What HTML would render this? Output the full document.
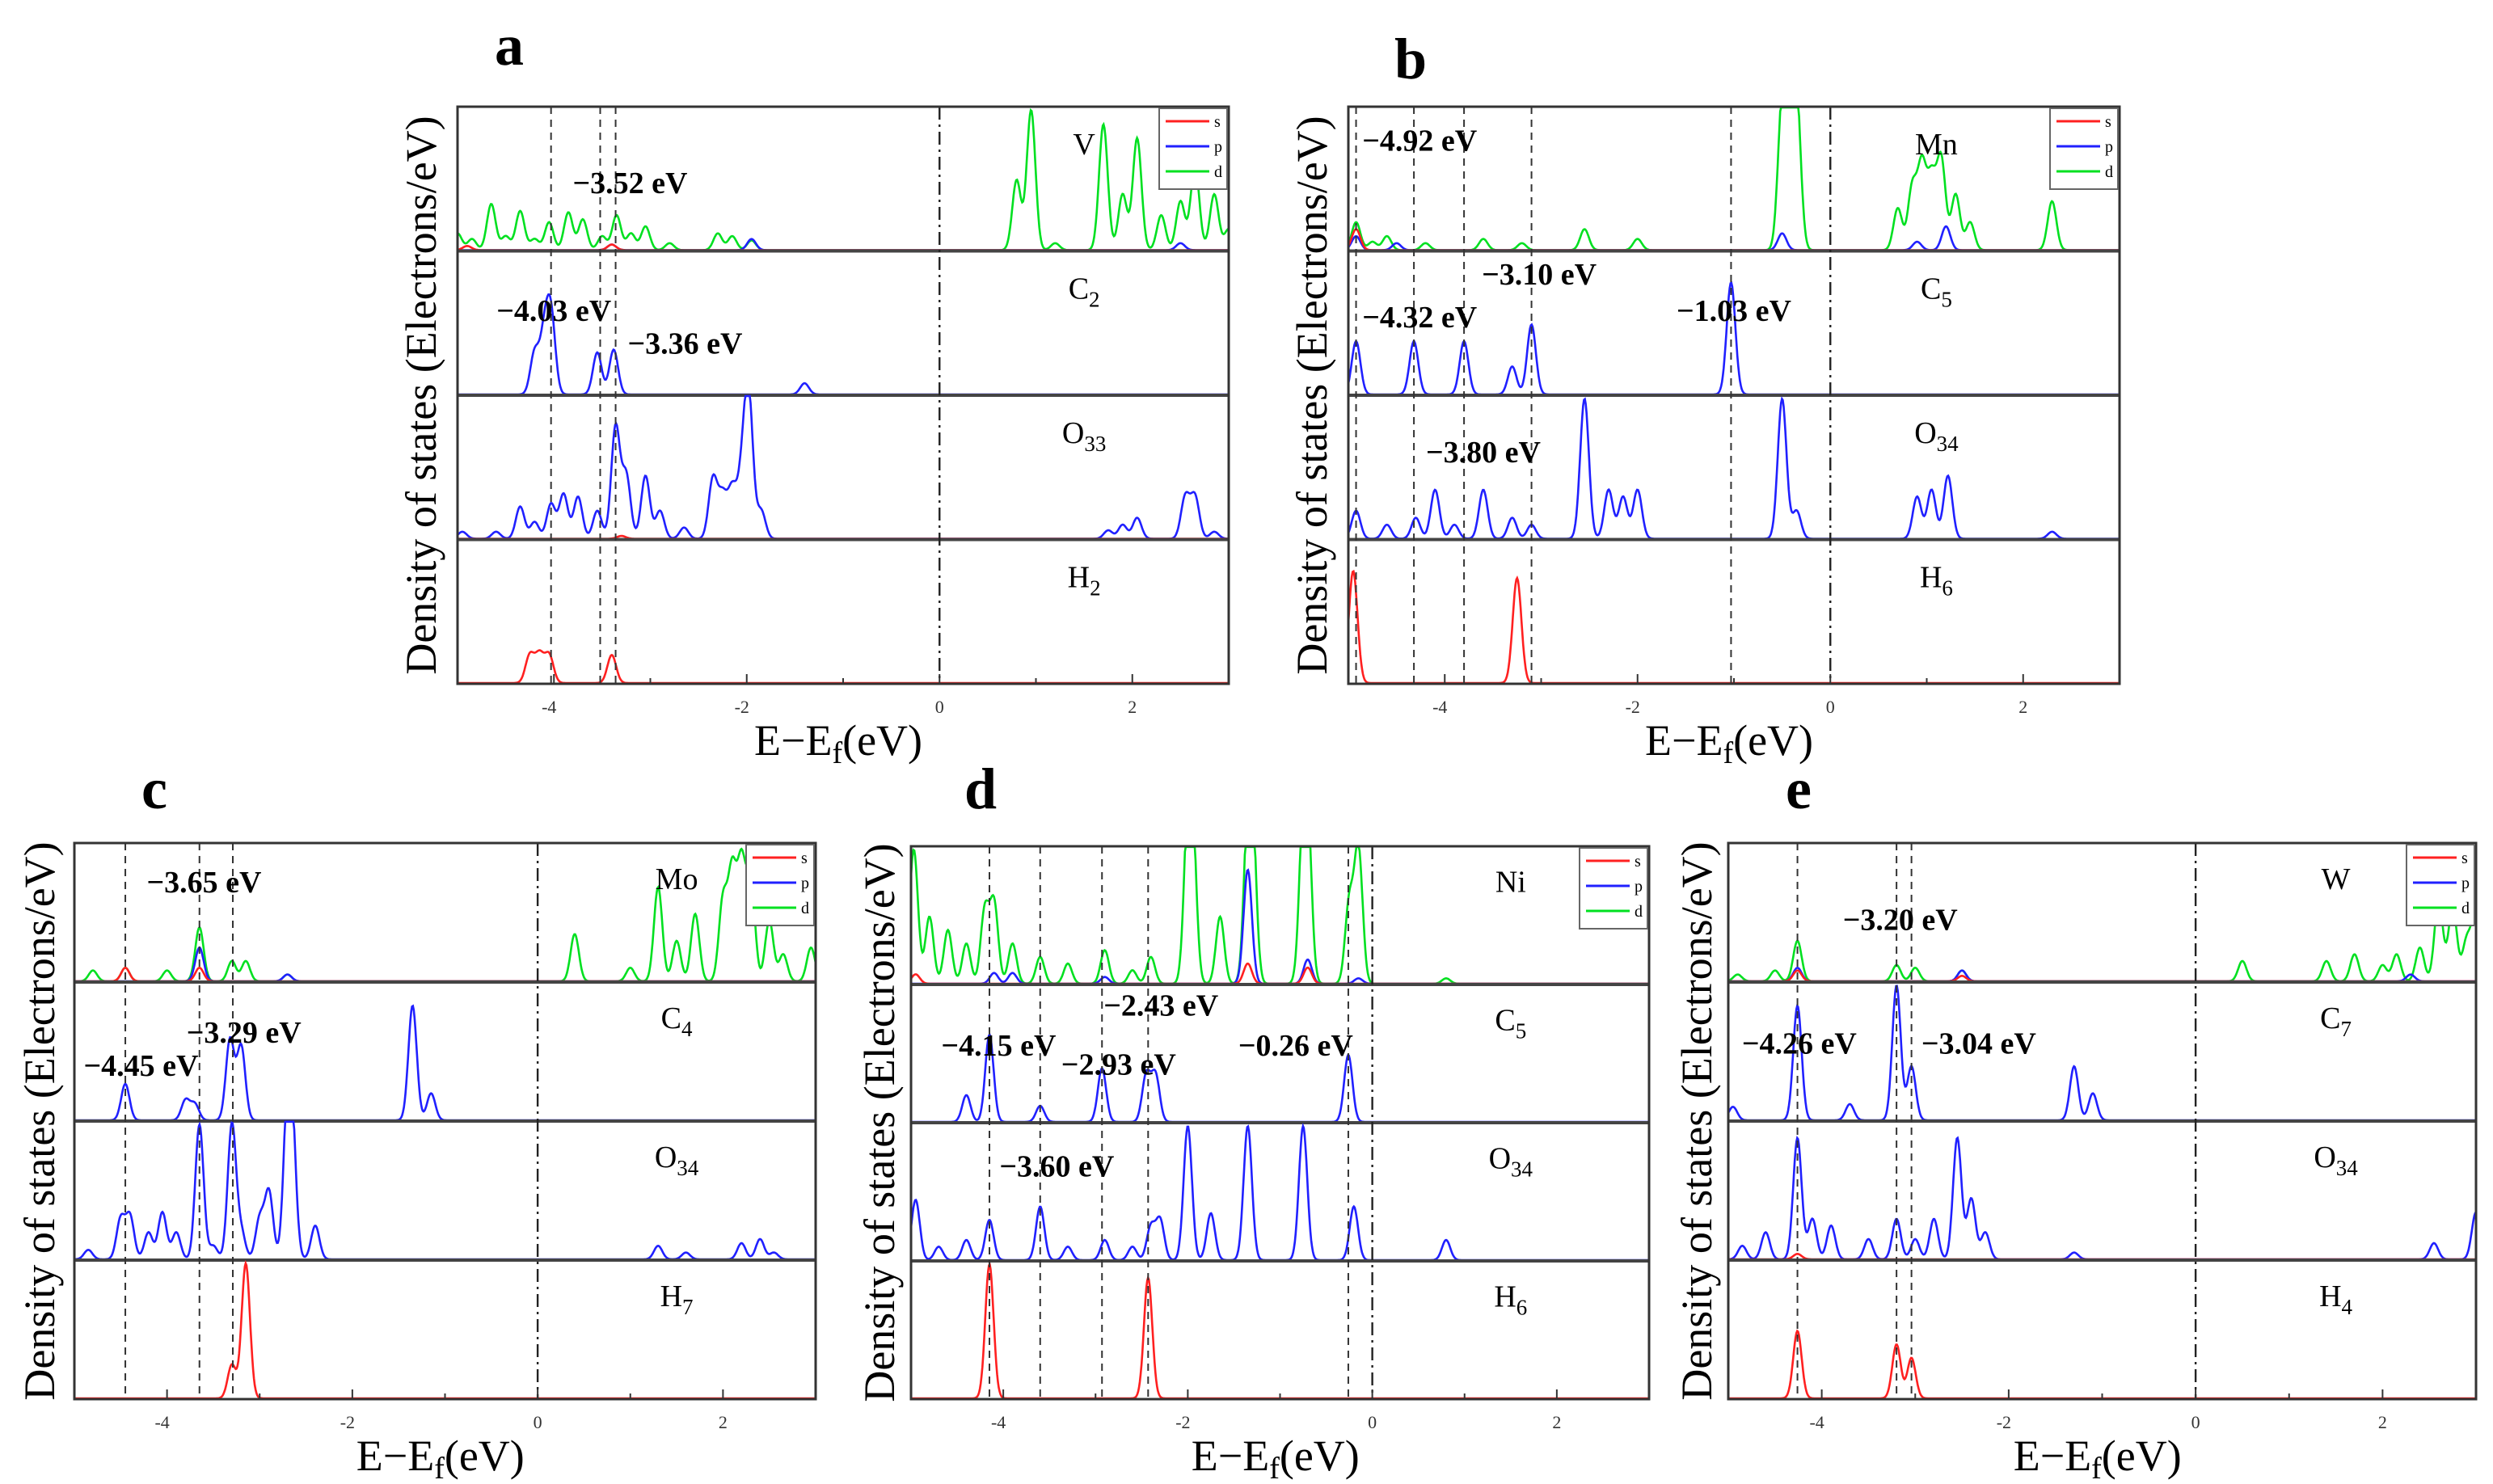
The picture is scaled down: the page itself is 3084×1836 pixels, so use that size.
<!DOCTYPE html>
<html><head><meta charset="utf-8">
<style>
html,body{margin:0;padding:0;background:#fff;}
svg{display:block;}
</style></head>
<body>
<svg id="fig" xmlns="http://www.w3.org/2000/svg" width="3084" height="1836" viewBox="0 0 3084 1836" font-family="'Liberation Serif', serif"></svg>
<script>
// ---- Data (peaks: [energy eV, relative height]) ----
const xTicks = [-4, -2, 0, 2];
const orbitals = ['s', 'p', 'd'];

const aDashed = [-4.03, -3.52, -3.36];
const aAnnot = [['−3.52 eV', -3.21, 0.132], ['−4.03 eV', -4.0, 0.353], ['−3.36 eV', -2.64, 0.41]];
const aLabels = ['V', 'C2', 'O33', 'H2'];
const aV_d = [[-5,0.12],[-4.85,0.08],[-4.65,0.33],[-4.5,0.1],[-4.35,0.28],[-4.2,0.08],[-4.05,0.2],[-3.85,0.27],[-3.7,0.22],[-3.5,0.1],[-3.35,0.25],[-3.2,0.12],[-3.05,0.17],[-2.8,0.05],[-2.3,0.12],[-2.15,0.1],[-1.95,0.07],[0.8,0.5],[0.95,1.0],[1.2,0.05],[1.7,0.9],[1.9,0.4],[2.05,0.8],[2.3,0.25],[2.5,0.35],[2.65,0.6],[2.85,0.4],[3,0.15]];
const aV_p = [[-1.95,0.08],[-3.4,0.04],[2.5,0.05]];
const aV_s = [[-3.4,0.04],[-4.9,0.03]];
const aC_p = [[-4.2,0.3],[-4.1,0.4],[-4.03,0.55],[-3.55,0.3],[-3.38,0.32],[-1.4,0.08]];
const aO_p = [[-4.95,0.05],[-4.6,0.05],[-4.35,0.23],[-4.2,0.12],[-4.03,0.25],[-3.9,0.32],[-3.75,0.3],[-3.55,0.2],[-3.36,0.8],[-3.25,0.45],[-3.05,0.45],[-2.9,0.2],[-2.65,0.08],[-2.35,0.43],[-2.25,0.3],[-2.15,0.35],[-2.05,0.4],[-1.98,1.0],[-1.85,0.2],[1.75,0.06],[1.9,0.1],[2.05,0.15],[2.55,0.3],[2.65,0.3],[2.85,0.05]];
const aO_s = [[-3.3,0.02]];
const aH_s = [[-4.25,0.2],[-4.15,0.2],[-4.05,0.2],[-3.4,0.2]];

const bDashed = [-4.92, -4.32, -3.80, -3.10, -1.03];
const bAnnot = [['−4.92 eV', -4.26, 0.058], ['−3.10 eV', -3.02, 0.29], ['−4.32 eV', -4.26, 0.364], ['−1.03 eV', -1.0, 0.353], ['−3.80 eV', -3.6, 0.598]];
const bLabels = ['Mn', 'C5', 'O34', 'H6'];
const bMn_d = [[-4.92,0.2],[-4.75,0.06],[-4.6,0.1],[-4.2,0.05],[-3.6,0.08],[-3.2,0.05],[-2.55,0.15],[-2.0,0.08],[-0.5,1.0],[-0.42,1.0],[-0.35,1.0],[0.7,0.3],[0.85,0.45],[0.95,0.6],[1.05,0.5],[1.15,0.65],[1.3,0.4],[1.45,0.2],[2.3,0.35]];
const bMn_p = [[-4.92,0.1],[-4.5,0.05],[-0.5,0.12],[1.2,0.17],[0.9,0.06]];
const bMn_s = [[-4.92,0.15]];
const bC_p = [[-4.92,0.38],[-4.32,0.38],[-3.80,0.38],[-3.3,0.2],[-3.1,0.5],[-1.03,0.8]];
const bO_p = [[-4.92,0.2],[-4.6,0.1],[-4.3,0.15],[-4.1,0.35],[-3.9,0.1],[-3.6,0.35],[-3.3,0.15],[-3.1,0.1],[-2.55,1.0],[-2.3,0.35],[-2.15,0.3],[-2.0,0.35],[-0.5,1.0],[-0.35,0.2],[0.9,0.3],[1.05,0.35],[1.22,0.45],[2.3,0.05]];
const bH_s = [[-4.95,0.8],[-3.25,0.75]];

const cDashed = [-4.45, -3.65, -3.29];
const cAnnot = [['−3.65 eV', -3.6, 0.07], ['−3.29 eV', -3.17, 0.34], ['−4.45 eV', -4.28, 0.40]];
const cLabels = ['Mo', 'C4', 'O34', 'H7'];
const cMo_d = [[-4.8,0.08],[-4.45,0.1],[-4.0,0.08],[-3.65,0.4],[-3.3,0.15],[-3.15,0.15],[-2.7,0.05],[0.4,0.35],[1.0,0.1],[1.3,0.7],[1.5,0.3],[1.7,0.5],[2.0,0.6],[2.1,0.8],[2.2,0.85],[2.3,0.75],[2.5,0.45],[2.65,0.2],[2.95,0.25]];
const cMo_p = [[-3.65,0.25],[-2.7,0.05]];
const cMo_s = [[-4.45,0.1],[-3.65,0.1]];
const cC_p = [[-4.45,0.27],[-3.8,0.15],[-3.7,0.12],[-3.32,0.6],[-3.2,0.55],[-1.35,0.85],[-1.15,0.2]];
const cO_p = [[-4.85,0.07],[-4.5,0.3],[-4.4,0.32],[-4.2,0.2],[-4.05,0.35],[-3.9,0.2],[-3.65,1.0],[-3.5,0.1],[-3.3,1.0],[-3.2,0.2],[-3.0,0.3],[-2.9,0.5],[-2.7,1.0],[-2.65,0.8],[-2.4,0.25],[1.3,0.1],[1.6,0.05],[2.2,0.12],[2.4,0.15],[2.55,0.05]];
const cH_s = [[-3.3,0.25],[-3.15,1.0]];

const dDashed = [-4.15, -3.60, -2.93, -2.43, -0.26];
const dAnnot = [['−4.15 eV', -4.05, 0.36], ['−2.43 eV', -2.29, 0.287], ['−2.93 eV', -2.75, 0.394], ['−0.26 eV', -0.83, 0.36], ['−3.60 eV', -3.42, 0.578]];
const dLabels = ['Ni', 'C5', 'O34', 'H6'];
const dNi_d = [[-4.97,1.0],[-4.8,0.5],[-4.6,0.4],[-4.4,0.3],[-4.2,0.55],[-4.1,0.6],[-3.9,0.3],[-3.6,0.2],[-3.3,0.15],[-2.9,0.25],[-2.6,0.1],[-2.4,0.2],[-2.0,1.0],[-1.95,1.0],[-1.65,0.5],[-1.35,1.0],[-1.3,1.0],[-0.75,1.0],[-0.7,1.0],[-0.25,0.6],[-0.15,1.0],[0.8,0.04]];
const dNi_p = [[-1.35,0.85],[-0.7,0.18],[-2.9,0.05],[-4.1,0.08],[-3.9,0.08],[-0.15,0.04]];
const dNi_s = [[-4.95,0.07],[-1.35,0.15],[-0.7,0.12]];
const dC_p = [[-4.4,0.2],[-4.15,0.65],[-3.6,0.12],[-2.93,0.4],[-2.45,0.35],[-2.35,0.35],[-0.26,0.5]];
const dO_p = [[-4.95,0.45],[-4.7,0.1],[-4.4,0.15],[-4.15,0.3],[-3.6,0.4],[-3.3,0.1],[-2.9,0.15],[-2.6,0.1],[-2.4,0.25],[-2.3,0.3],[-2.0,1.0],[-1.75,0.35],[-1.35,1.0],[-0.75,1.0],[-0.2,0.4],[0.8,0.15]];
const dH_s = [[-4.15,1.0],[-2.43,0.9]];

const eDashed = [-4.26, -3.20, -3.04];
const eAnnot = [['−3.20 eV', -3.16, 0.137], ['−4.26 eV', -4.24, 0.36], ['−3.04 eV', -2.32, 0.36]];
const eLabels = ['W', 'C7', 'O34', 'H4'];
const eW_d = [[-4.9,0.05],[-4.5,0.08],[-4.26,0.3],[-3.2,0.12],[-3.0,0.1],[-2.5,0.08],[0.5,0.15],[1.4,0.15],[1.7,0.2],[2.0,0.12],[2.15,0.2],[2.4,0.25],[2.6,0.6],[2.75,0.55],[2.9,0.3],[3.0,0.5]];
const eW_p = [[-4.26,0.1],[-2.5,0.08],[2.3,0.05]];
const eW_s = [[-4.26,0.08],[-2.5,0.04]];
const eC_p = [[-4.95,0.1],[-4.26,0.85],[-3.7,0.12],[-3.2,1.0],[-3.04,0.4],[-1.3,0.4],[-1.1,0.2]];
const eO_p = [[-4.85,0.1],[-4.6,0.2],[-4.26,0.9],[-4.1,0.3],[-3.9,0.25],[-3.5,0.15],[-3.2,0.3],[-3.0,0.15],[-2.8,0.3],[-2.55,0.9],[-2.4,0.45],[-2.25,0.2],[-1.3,0.05],[2.55,0.12],[3.0,0.35]];
const eO_s = [[-4.26,0.04]];
const eH_s = [[-4.26,0.5],[-3.2,0.4],[-3.04,0.3]];

// ---- Layout ----
const panels = [
 {id:'a', box:[566,132,1520,846], letter:[630,58], ylx:521, dashed:aDashed, annot:aAnnot, labels:aLabels, labX:1.5,
  subs:[{s:aV_s,p:aV_p,d:aV_d},{p:aC_p},{s:aO_s,p:aO_p},{s:aH_s}]},
 {id:'b', box:[1668,132,2622,846], letter:[1745,75], ylx:1623, dashed:bDashed, annot:bAnnot, labels:bLabels, labX:1.1,
  subs:[{s:bMn_s,p:bMn_p,d:bMn_d},{p:bC_p},{p:bO_p},{s:bH_s}]},
 {id:'c', box:[92,1043,1009,1731], letter:[191,978], ylx:49, dashed:cDashed, annot:cAnnot, labels:cLabels, labX:1.5,
  subs:[{s:cMo_s,p:cMo_p,d:cMo_d},{p:cC_p},{p:cO_p},{s:cH_s}]},
 {id:'d', box:[1127,1047,2040,1731], letter:[1213,978], ylx:1088, dashed:dDashed, annot:dAnnot, labels:dLabels, labX:1.5,
  subs:[{s:dNi_s,p:dNi_p,d:dNi_d},{p:dC_p},{p:dO_p},{s:dH_s}]},
 {id:'e', box:[2138,1043,3063,1731], letter:[2225,978], ylx:2099, dashed:eDashed, annot:eAnnot, labels:eLabels, labX:1.5,
  subs:[{s:eW_s,p:eW_p,d:eW_d},{p:eC_p},{s:eO_s,p:eO_p},{s:eH_s}]},
];
const colors = {s:'#ff2020', p:'#2020ff', d:'#00e020'};
const NS = 'http://www.w3.org/2000/svg';
const svg = document.getElementById('fig');
function mk(tag, attrs, parent){ const e=document.createElementNS(NS,tag); for(const k in attrs) e.setAttribute(k,attrs[k]); (parent||svg).appendChild(e); return e; }
function dos(peaks, x){ let v=0; for(const [c,h] of peaks){ const sg=0.045; v+=h*Math.exp(-((x-c)*(x-c))/(2*sg*sg)); } return Math.min(v,1.02); }

panels.forEach(P=>{
  const [x0,y0,x1,y1]=P.box;
  const g=mk('g',{});
  
  
  const X=e=>x0+(e+5)/8*(x1-x0);
  const subH=(y1-y0)/4;
  const L=mk('text',{x:P.letter[0],y:P.letter[1]+22,'font-size':72,'font-weight':'bold','text-anchor':'middle'},g);
  L.textContent=P.id;
  
  
  const clipId='clip'+P.id;
  const cp=mk('clipPath',{id:clipId},g); mk('rect',{x:x0,y:y0,width:x1-x0,height:y1-y0},cp);
  P.subs.forEach((sub,i)=>{
    const base=y0+(i+1)*subH;
    ['d','p','s'].forEach(o=>{
      if(!sub[o]) return;
      let pts=[];
      const N=900;
      for(let k=0;k<=N;k++){ const e=-5+8*k/N; pts.push(X(e).toFixed(1)+','+(base-1-dos(sub[o],e)*subH*0.97).toFixed(1)); }
      const pl=mk('polyline',{points:pts.join(' '),fill:'none',stroke:colors[o],'stroke-width':2.6,'clip-path':'url(#'+clipId+')'},g);
      
      
    });
    const lab=P.labels[i];
    const m=lab.match(/^([A-Za-z]+)(\d*)$/);
    const t=mk('text',{x:X(P.labX),y:y0+i*subH+subH*0.33,'font-size':38,'text-anchor':'middle'},g);
    t.textContent=m[1];
    if(m[2]){ const ts=mk('tspan',{'font-size':27,dy:10},t); ts.textContent=m[2]; }
    
    
    if(i<3){ const sl=mk('line',{x1:x0,x2:x1,y1:base,y2:base,stroke:'#444','stroke-width':4},g);
      
       }
  });
  P.dashed.forEach(v=>{
    const l=mk('line',{x1:X(v),x2:X(v),y1:y0,y2:y1,stroke:'#333','stroke-width':2,'stroke-dasharray':'9,7'},g);
    
    
  });
  const fl=mk('line',{x1:X(0),x2:X(0),y1:y0,y2:y1,stroke:'#222','stroke-width':2.4,'stroke-dasharray':'16,6,3,6'},g);
  
  
  const bx=mk('rect',{x:x0,y:y0,width:x1-x0,height:y1-y0,fill:'none',stroke:'#333','stroke-width':3},g);
  
  
  for(let e=-5;e<=3;e+=1){ const tk=mk('line',{x1:X(e),x2:X(e),y1:y1,y2:y1-(e%2===0?12:7),stroke:'#333','stroke-width':2},g);
    
     }
  xTicks.forEach(v=>{
    const t=mk('text',{x:X(v)-(v<0?6:0),y:y1+36,'font-size':22,'text-anchor':'middle',fill:'#333'},g);
    t.textContent=v;
    
    
  });
  P.annot.forEach(([txt,e,f])=>{
    const t=mk('text',{x:X(e),y:y0+f*(y1-y0)+13,'font-size':38,'font-weight':'bold','text-anchor':'middle'},g);
    t.textContent=txt;
    
    
  });
  const lg=mk('g',{},g);
  
  
  const lw=86,lh=100;
  mk('rect',{x:x1-lw,y:y0+2,width:lw-2,height:lh,fill:'#fff',stroke:'#666','stroke-width':2},lg);
  orbitals.forEach((o,k)=>{
    const yy=y0+18+k*31;
    const ll=mk('line',{x1:x1-lw+8,x2:x1-24,y1:yy,y2:yy,stroke:colors[o],'stroke-width':3},lg);
    
    
    const lt=mk('text',{x:x1-18,y:yy+7,'font-size':20},lg); lt.textContent=o;
  });
  const yc=(y0+y1)/2;
  const yl=mk('text',{x:P.ylx,y:yc,'font-size':54,'text-anchor':'middle',transform:'rotate(-90 '+P.ylx+' '+yc+')','dominant-baseline':'central'},g);
  yl.textContent='Density of states (Electrons/eV)';
  
  
  const xl=mk('text',{x:X(-1.05),y:y1+88,'font-size':54,'text-anchor':'middle'},g);
  xl.textContent='E−E';
  const sub=mk('tspan',{'font-size':38,dy:10},xl); sub.textContent='f';
  const rest=mk('tspan',{dy:-10},xl); rest.textContent='(eV)';
  
  
});
</script>
</body></html>
